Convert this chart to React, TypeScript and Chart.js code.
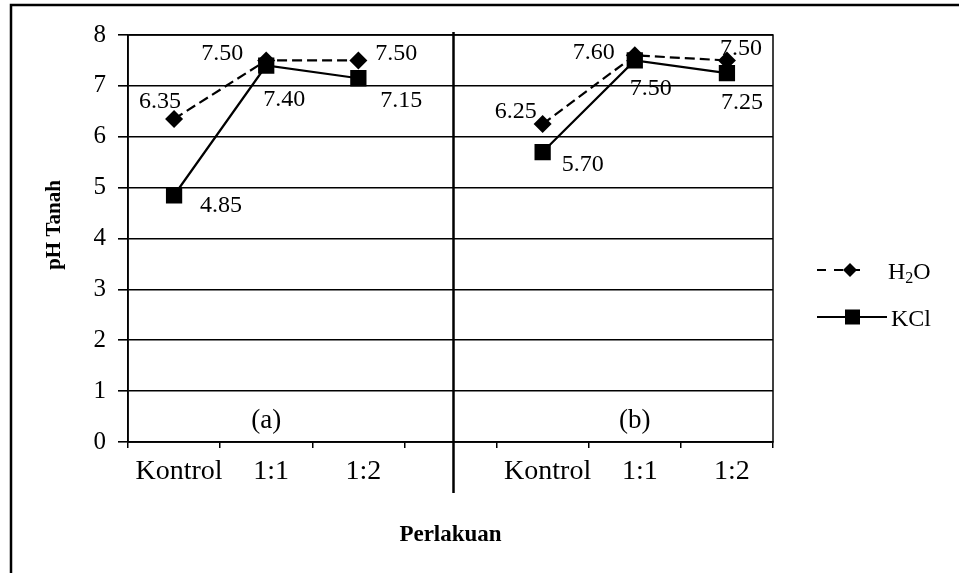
import React, { useEffect, useRef } from "react";
import { Chart, registerables } from "chart.js";

Chart.register(...registerables);

// ---- data ----
const categories = ["Kontrol", "1:1", "1:2", "", "Kontrol", "1:1", "1:2"];
const h2oValues: (number | null)[] = [6.35, 7.5, 7.5, null, 6.25, 7.6, 7.5];
const kclValues: (number | null)[] = [4.85, 7.4, 7.15, null, 5.7, 7.5, 7.25];
const panelLabels = ["(a)", "(b)"];
const panelCategoryIndex = [1, 5];
const yMin = 0;
const yMax = 8;
const yStep = 1;
const yTitle = "pH Tanah";
const xTitle = "Perlakuan";

// ---- label placement (style) ----
const h2oLabelOffsets: ([number, number] | null)[] = [[-14, -17], [-44, -7], [38, -7], null, [-27, -12], [-41, -3], [14, -12]];
const kclLabelOffsets: ([number, number] | null)[] = [[47, 10], [18, 34], [43, 22], null, [40, 13], [16, 28], [15, 30]];

const SERIF = "'Liberation Serif', 'Times New Roman', serif";

const decorPlugin = {
  id: "decor",
  afterDraw(chart: any) {
    const ctx = chart.ctx as CanvasRenderingContext2D;
    const area = chart.chartArea;
    const xs = chart.scales.x;
    const ys = chart.scales.y;
    ctx.save();

    // outer frame (left + top)
    ctx.strokeStyle = "#000";
    ctx.lineWidth = 2.5;
    ctx.beginPath();
    ctx.moveTo(11, 573);
    ctx.lineTo(11, 5);
    ctx.lineTo(959, 5);
    ctx.stroke();

    // plot frame
    ctx.lineWidth = 1.5;
    ctx.strokeRect(area.left, area.top, area.right - area.left, area.bottom - area.top);

    // panel divider
    const divX = xs.getPixelForValue(3) + 3;
    ctx.lineWidth = 2.5;
    ctx.beginPath();
    ctx.moveTo(divX, area.top - 3);
    ctx.lineTo(divX, 493);
    ctx.stroke();

    // panel labels
    ctx.fillStyle = "#000";
    ctx.font = `27px ${SERIF}`;
    ctx.textAlign = "center";
    ctx.textBaseline = "middle";
    panelLabels.forEach((t, i) => {
      ctx.fillText(t, xs.getPixelForValue(panelCategoryIndex[i]), ys.getPixelForValue(0.42));
    });

    // data labels
    ctx.font = `24px ${SERIF}`;
    const drawLabels = (values: (number | null)[], offs: ([number, number] | null)[], dsIndex: number) => {
      const meta = chart.getDatasetMeta(dsIndex);
      values.forEach((v, i) => {
        const o = offs[i];
        if (v == null || !o) return;
        const el = meta.data[i];
        ctx.fillText(v.toFixed(2), el.x + o[0], el.y + o[1]);
      });
    };
    drawLabels(h2oValues, h2oLabelOffsets, 0);
    drawLabels(kclValues, kclLabelOffsets, 1);

    // axis titles
    ctx.font = `bold 21px ${SERIF}`;
    ctx.save();
    ctx.translate(55, 225);
    ctx.rotate(-Math.PI / 2);
    ctx.fillText(yTitle, 0, 0);
    ctx.restore();
    ctx.font = `bold 23px ${SERIF}`;
    ctx.fillText(xTitle, (area.left + area.right) / 2, 535);

    // legend
    ctx.lineWidth = 2.2;
    // H2O
    const ly1 = 270;
    ctx.setLineDash([9, 8]);
    ctx.beginPath();
    ctx.moveTo(817, ly1);
    ctx.lineTo(864, ly1);
    ctx.stroke();
    ctx.setLineDash([]);
    ctx.beginPath();
    ctx.moveTo(850, ly1 - 7);
    ctx.lineTo(857, ly1);
    ctx.lineTo(850, ly1 + 7);
    ctx.lineTo(843, ly1);
    ctx.closePath();
    ctx.fill();
    ctx.textAlign = "left";
    ctx.textBaseline = "alphabetic";
    ctx.font = `24px ${SERIF}`;
    let tx = 888;
    ctx.fillText("H", tx, ly1 + 9);
    tx += ctx.measureText("H").width;
    ctx.font = `16px ${SERIF}`;
    ctx.fillText("2", tx, ly1 + 13);
    tx += ctx.measureText("2").width;
    ctx.font = `24px ${SERIF}`;
    ctx.fillText("O", tx, ly1 + 9);
    // KCl
    const ly2 = 317;
    ctx.beginPath();
    ctx.moveTo(817, ly2);
    ctx.lineTo(887, ly2);
    ctx.stroke();
    ctx.fillRect(845, ly2 - 7.5, 15, 15);
    ctx.fillText("KCl", 891, ly2 + 9);

    ctx.restore();
  },
};

export default function App() {
  const canvasRef = useRef<HTMLCanvasElement | null>(null);

  useEffect(() => {
    if (!canvasRef.current) return;
    const chart = new Chart(canvasRef.current, {
      type: "line",
      data: {
        labels: categories,
        datasets: [
          {
            label: "H2O",
            data: h2oValues,
            borderColor: "#000",
            backgroundColor: "#000",
            borderWidth: 2.2,
            borderDash: [10, 5],
            pointStyle: "rectRot",
            pointRadius: 9,
            pointBackgroundColor: "#000",
            pointBorderColor: "#000",
            pointBorderWidth: 0,
            spanGaps: false,
            tension: 0,
          },
          {
            label: "KCl",
            data: kclValues,
            borderColor: "#000",
            backgroundColor: "#000",
            borderWidth: 2.2,
            pointStyle: "rect",
            pointRadius: 11.5,
            pointBackgroundColor: "#000",
            pointBorderColor: "#000",
            pointBorderWidth: 0,
            spanGaps: false,
            tension: 0,
          },
        ],
      },
      options: {
        responsive: false,
        animation: false,
        events: [],
        layout: { padding: { top: 35, right: 186, left: 0, bottom: 0 } },
        plugins: { legend: { display: false }, tooltip: { enabled: false } },
        scales: {
          x: {
            offset: true,
            grid: {
              offset: true,
              drawOnChartArea: false,
              drawTicks: true,
              tickLength: 6,
              color: "#000",
              lineWidth: 1.5,
            },
            border: { color: "#000", width: 1.5 },
            ticks: {
              color: "#000",
              font: { family: SERIF, size: 28 },
              padding: 7,
              labelOffset: 5,
              maxRotation: 0,
              autoSkip: false,
            },
            afterFit: (s: any) => {
              s.height = 131;
            },
          },
          y: {
            min: yMin,
            max: yMax,
            ticks: {
              stepSize: yStep,
              color: "#000",
              font: { family: SERIF, size: 25 },
              padding: 12,
            },
            grid: { color: "#000", lineWidth: 1.6, tickLength: 10 },
            border: { color: "#000", width: 1.6 },
            afterFit: (s: any) => {
              s.width = 128;
            },
          },
        },
      },
      plugins: [decorPlugin],
    });
    return () => chart.destroy();
  }, []);

  return (
    <div style={{ position: "absolute", left: 0, top: 0, width: 959, height: 573, background: "#fff" }}>
      <canvas ref={canvasRef} width={959} height={573} style={{ display: "block" }} />
    </div>
  );
}
